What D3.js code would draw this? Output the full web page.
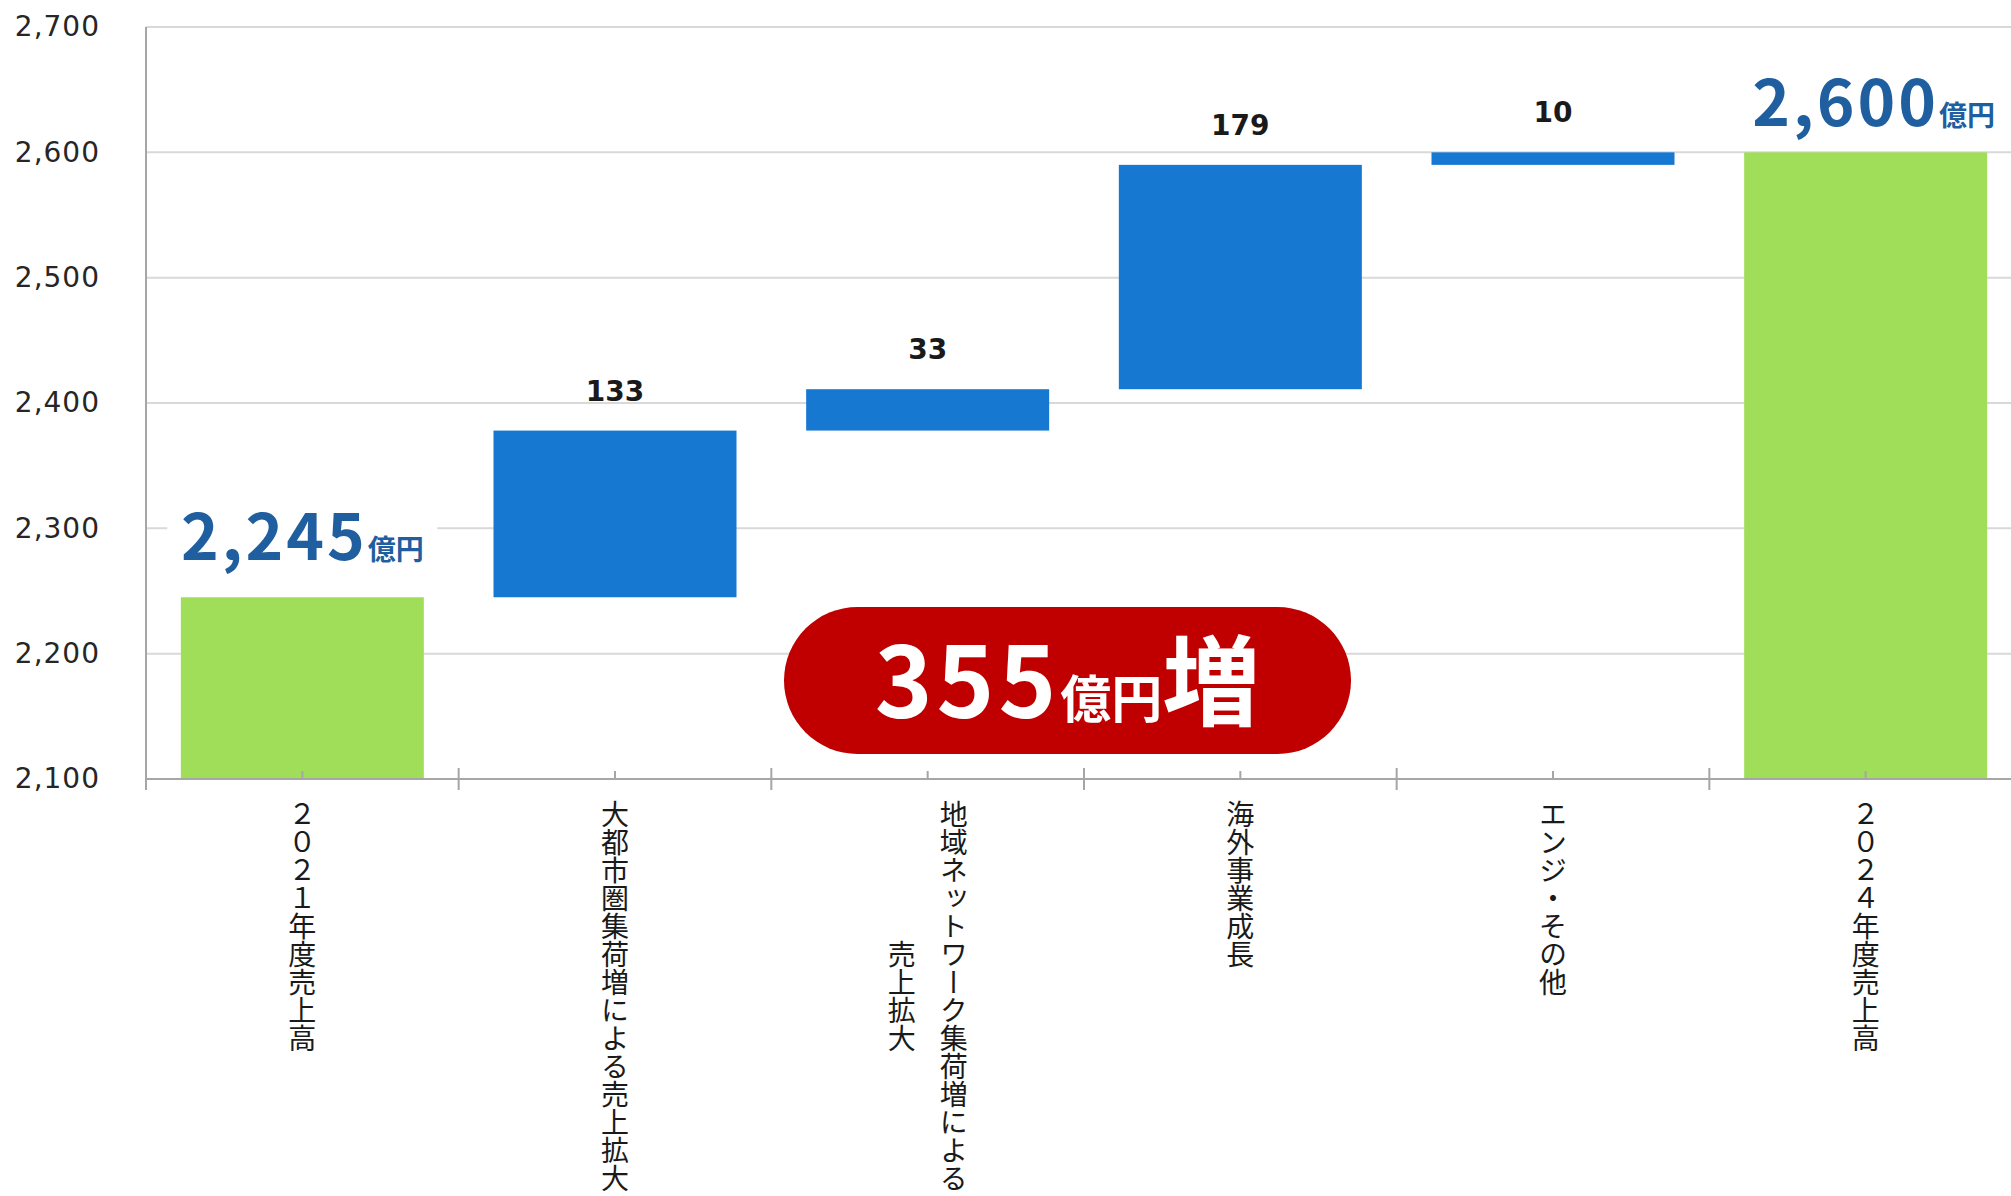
<!DOCTYPE html>
<html>
<head>
<meta charset="utf-8">
<script src="https://cdn.jsdelivr.net/npm/d3@7"></script>
<style>
  html, body { margin: 0; padding: 0; background: #fff; overflow: hidden; }
  svg { display: block; }
  .xlab { writing-mode: vertical-rl; text-orientation: upright; }
</style>
</head>
<body>
<svg id="chart" width="2011" height="1196"></svg>
<script>
// ---- data ----
const categories = ["c2021", "c_metro", "c_region", "c_overseas", "c_other", "c2024"];
const labelLines = [
  ["２０２１年度売上高"],
  ["大都市圏集荷増による売上拡大"],
  ["地域ネットワーク集荷増による", "売上拡大"],
  ["海外事業成長"],
  ["エンジ・その他"],
  ["２０２４年度売上高"]
];
const values = [2245, 133, 33, 179, 10, 2600];
const kinds = ["total", "delta", "delta", "delta", "delta", "total"];
const yTicks = [2100, 2200, 2300, 2400, 2500, 2600, 2700];
const unitLabel = "億円";
const increaseLabel = "増";

// ---- layout ----
const plotLeft = 146, plotRight = 2022, plotTop = 27, plotBottom = 779;
const svg = d3.select("#chart");

const x = d3.scaleBand().domain(categories).range([plotLeft, plotRight])
  .paddingInner(0.2228).paddingOuter(0.1114);
const y = d3.scaleLinear().domain([2100, 2700]).range([plotBottom, plotTop]);

// waterfall segments
let run = 0;
const segs = categories.map((c, i) => {
  let lo, hi;
  if (kinds[i] === "total") { lo = 2100; hi = values[i]; run = values[i]; }
  else { lo = run; hi = run + values[i]; run = hi; }
  return { c, i, lo, hi, v: values[i], kind: kinds[i] };
});

// gridlines
svg.append("g").selectAll("line").data(yTicks.filter(t => t > 2100)).join("line")
  .attr("x1", plotLeft).attr("x2", plotRight)
  .attr("y1", d => y(d)).attr("y2", d => y(d))
  .attr("stroke", "#d9d9d9").attr("stroke-width", 2);

// y axis
const yAxis = d3.axisLeft(y).tickValues(yTicks).tickSize(0).tickPadding(46)
  .tickFormat(d3.format(","));
const gy = svg.append("g").attr("transform", `translate(${plotLeft},0)`).call(yAxis);
gy.select(".domain").remove();
gy.selectAll("text").attr("font-family", "'DejaVu Sans', Verdana, sans-serif")
  .attr("font-size", 28).attr("fill", "#262626").attr("letter-spacing", 1);
svg.append("line").attr("x1", plotLeft).attr("x2", plotLeft)
  .attr("y1", plotTop).attr("y2", plotBottom + 11)
  .attr("stroke", "#a6a6a6").attr("stroke-width", 2);

// bars
svg.append("g").selectAll("rect").data(segs).join("rect")
  .attr("x", d => x(d.c)).attr("width", x.bandwidth())
  .attr("y", d => y(d.hi)).attr("height", d => y(d.lo) - y(d.hi))
  .attr("fill", d => d.kind === "total" ? "#a0de5a" : "#1778d2");

// x axis
svg.append("line").attr("x1", plotLeft).attr("x2", plotRight)
  .attr("y1", plotBottom).attr("y2", plotBottom)
  .attr("stroke", "#a6a6a6").attr("stroke-width", 2);
const step = x.step();
const bounds = d3.range(categories.length + 1).map(k => plotLeft + k * step);
svg.append("g").selectAll("line").data(bounds).join("line")
  .attr("x1", d => d).attr("x2", d => d)
  .attr("y1", plotBottom - 11).attr("y2", plotBottom + 11)
  .attr("stroke", "#a6a6a6").attr("stroke-width", 2);
svg.append("g").selectAll("line").data(categories).join("line")
  .attr("x1", d => x(d) + x.bandwidth() / 2).attr("x2", d => x(d) + x.bandwidth() / 2)
  .attr("y1", plotBottom - 8).attr("y2", plotBottom)
  .attr("stroke", "#a6a6a6").attr("stroke-width", 2);

// x labels (vertical)
const fs = 28;
const gl = svg.append("g");
categories.forEach((c, i) => {
  const cx = x(c) + x.bandwidth() / 2;
  const lines = labelLines[i];
  const n = lines.length;
  lines.forEach((ln, j) => {
    const colX = cx + (n - 1) * 26 - j * 52;
    const startY = 800 + (j > 0 ? 5 * fs : 0);
    gl.append("text").attr("class", "xlab")
      .attr("x", colX).attr("y", startY)
      .attr("font-family", "'Noto Sans CJK JP', sans-serif")
      .attr("font-size", fs).attr("fill", "#1a1a1a")
      .text(ln);
  });
});

// delta labels
svg.append("g").selectAll("text").data(segs.filter(d => d.kind === "delta")).join("text")
  .attr("x", d => x(d.c) + x.bandwidth() / 2)
  .attr("y", d => y(d.hi) - 30)
  .attr("text-anchor", "middle")
  .attr("font-family", "'DejaVu Sans', Verdana, sans-serif")
  .attr("font-weight", "bold").attr("font-size", 28).attr("fill", "#1a1a1a")
  .text(d => d3.format(",")(d.v));

// total labels with white backing
const totals = segs.filter(d => d.kind === "total");
totals.forEach((d, k) => {
  const cx = x(d.c) + x.bandwidth() / 2;
  const base = y(d.hi) - (k === 0 ? 37 : 26);
  svg.append("rect").attr("x", cx - 135).attr("y", base - 62)
    .attr("width", 270).attr("height", 82).attr("fill", "#fff");
  const t = svg.append("text").attr("x", cx + (k === 0 ? 0 : 8)).attr("y", base)
    .attr("text-anchor", "middle")
    .attr("font-family", "'Noto Sans CJK JP', sans-serif")
    .attr("font-weight", "bold").attr("fill", "#1f5fa0");
  t.append("tspan").attr("font-size", 64).attr("letter-spacing", 3).text(d3.format(",")(d.v));
  t.append("tspan").attr("font-size", 28).text(unitLabel);
});

// red pill annotation
const diff = values[values.length - 1] - values[0];
const pill = { x: 784, y: 607, w: 567, h: 147 };
svg.append("rect").attr("x", pill.x).attr("y", pill.y)
  .attr("width", pill.w).attr("height", pill.h)
  .attr("rx", pill.h / 2).attr("ry", pill.h / 2).attr("fill", "#c00000");
const pt = svg.append("text").attr("x", pill.x + pill.w / 2).attr("y", 718)
  .attr("text-anchor", "middle")
  .attr("font-family", "'Noto Sans CJK JP', sans-serif")
  .attr("font-weight", "bold").attr("fill", "#fff");
pt.append("tspan").attr("font-size", 98).attr("letter-spacing", 4).text(diff);
pt.append("tspan").attr("font-size", 51).text(unitLabel);
pt.append("tspan").attr("font-size", 98).text(increaseLabel);
</script>
</body>
</html>
